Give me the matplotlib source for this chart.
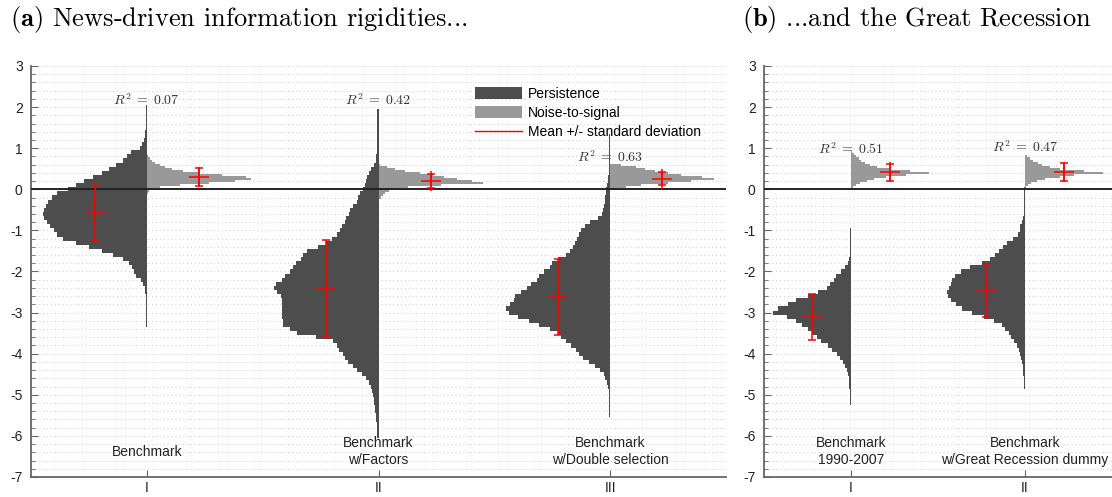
import numpy as np
import matplotlib
matplotlib.use("Agg")
import matplotlib.pyplot as plt
from matplotlib.patches import Patch
from matplotlib.lines import Line2D
from matplotlib.ticker import MultipleLocator

plt.rcParams['font.family'] = ['Liberation Sans', 'DejaVu Sans']
plt.rcParams['axes.unicode_minus'] = False
plt.rcParams['mathtext.fontset'] = 'cm'

DARK = '#4d4d4d'
LIGHT = '#999999'
HALF = 0.45          # widest half-violin, in category units

# ---- panel (a): news-driven information rigidities ----
ticks_a = ["I", "II", "III"]
labels_a = ["Benchmark", "Benchmark\nw/Factors", "Benchmark\nw/Double selection"]
r2_a = [0.07, 0.42, 0.63]
r2_y_a = [2.17, 2.17, 0.79]

# persistence histograms: relative bin heights, 0.1 bins listed from the top bin down
pers_top_a = [2.0, 1.9, 1.3]
pers_a = [
    [0.01, 0.01, 0.01, 0.01, 0.01, 0.01, 0.015, 0.02, 0.03, 0.05, 0.07,
     0.15, 0.19, 0.23, 0.30, 0.36, 0.43, 0.52, 0.60, 0.68, 0.76,
     0.86, 0.91, 0.95, 0.97, 0.99, 1.00, 0.99, 0.96, 0.93, 0.89,
     0.86, 0.80, 0.68, 0.55, 0.43, 0.32, 0.23, 0.17, 0.14, 0.12,
     0.10, 0.06, 0.04, 0.02, 0.015, 0.01, 0.01, 0.01, 0.01, 0.01,
     0.01, 0.01, 0.01],
    [0.01, 0.01, 0.01, 0.01, 0.01, 0.01, 0.01, 0.01, 0.012, 0.015,
     0.018, 0.02, 0.025, 0.04, 0.07, 0.09, 0.11, 0.12, 0.13, 0.145,
     0.18, 0.20, 0.21, 0.24, 0.27, 0.28, 0.31, 0.32, 0.35, 0.37,
     0.40, 0.45, 0.50, 0.58, 0.69, 0.72, 0.74, 0.79, 0.82, 0.85,
     0.90, 0.93, 0.98, 1.00, 0.97, 0.94, 0.93, 0.93, 0.93, 0.93,
     0.93, 0.92, 0.92, 0.85, 0.78, 0.60, 0.44, 0.40, 0.38, 0.34,
     0.32, 0.29, 0.24, 0.21, 0.16, 0.12, 0.09, 0.07, 0.06, 0.05,
     0.045, 0.04, 0.035, 0.03, 0.025, 0.02, 0.015, 0.01, 0.01, 0.01],
    [0.01, 0.01, 0.01, 0.01,
     0.01, 0.01, 0.01, 0.01, 0.012, 0.015, 0.018, 0.022, 0.03, 0.04,
     0.04, 0.045, 0.05, 0.06, 0.065, 0.075, 0.12, 0.19, 0.24, 0.28,
     0.30, 0.32, 0.34, 0.36, 0.39, 0.42, 0.50, 0.56, 0.58, 0.63,
     0.68, 0.70, 0.76, 0.80, 0.86, 0.91, 0.92, 0.96, 1.00, 0.97,
     0.88, 0.78, 0.68, 0.58, 0.50, 0.47, 0.42, 0.38, 0.33, 0.30,
     0.26, 0.20, 0.15, 0.10, 0.06, 0.05, 0.03, 0.02, 0.015, 0.01,
     0.01, 0.01, 0.01, 0.01, 0.01],
]
# noise-to-signal histograms: 0.05 bins from the top bin down
noise_top_a = [0.8, 0.6, 0.6]
noise_a = [
    [0.01, 0.03, 0.05, 0.08, 0.13, 0.17, 0.24, 0.35, 0.50, 0.72,
     0.95, 1.00, 0.85, 0.60, 0.32, 0.13, 0.05, 0.02, 0.01],
    [0.01, 0.08, 0.16, 0.25, 0.40, 0.52, 0.63, 0.75, 0.90, 1.00,
     0.60, 0.28, 0.15, 0.10, 0.06, 0.04, 0.02],
    [0.10, 0.25, 0.33, 0.43, 0.55, 0.68, 0.88, 1.00, 0.78, 0.55,
     0.30, 0.15, 0.04],
]
pers_mean_a = [-0.58, -2.42, -2.62]
pers_std_a = [0.69, 1.18, 0.93]
noise_mean_a = [0.30, 0.20, 0.26]
noise_std_a = [0.21, 0.18, 0.16]

# ---- panel (b): ...and the Great Recession ----
ticks_b = ["I", "II"]
labels_b = ["Benchmark\n1990-2007", "Benchmark\nw/Great Recession dummy"]
r2_b = [0.51, 0.47]
r2_y_b = [0.97, 1.02]

pers_top_b = [-1.0, 0.0]
pers_b = [
    [0.01, 0.01, 0.01, 0.01, 0.01, 0.012, 0.015, 0.02, 0.04, 0.08,
     0.13, 0.19, 0.22, 0.27, 0.31, 0.42, 0.55, 0.70, 0.80, 0.93,
     1.00, 0.82, 0.70, 0.62, 0.55, 0.50, 0.44, 0.38, 0.30, 0.24,
     0.18, 0.14, 0.10, 0.08, 0.05, 0.04, 0.03, 0.025, 0.02, 0.015,
     0.01, 0.01, 0.01],
    [0.01, 0.01, 0.01, 0.01, 0.012, 0.012, 0.015, 0.02, 0.04, 0.06,
     0.07, 0.09, 0.15, 0.23, 0.28, 0.33, 0.38, 0.45, 0.55, 0.70,
     0.82, 0.90, 0.93, 0.95, 0.97, 1.00, 0.98, 0.94, 0.88, 0.81,
     0.68, 0.52, 0.40, 0.30, 0.25, 0.20, 0.18, 0.14, 0.10, 0.08,
     0.06, 0.05, 0.04, 0.03, 0.025, 0.02, 0.015, 0.01, 0.01],
]
noise_top_b = [0.9, 0.8]
noise_b = [
    [0.01, 0.04, 0.07, 0.10, 0.13, 0.18, 0.24, 0.33, 0.48, 0.75,
     1.00, 0.70, 0.45, 0.30, 0.20, 0.12, 0.06, 0.02],
    [0.02, 0.06, 0.10, 0.16, 0.22, 0.32, 0.45, 0.75, 1.00, 0.62,
     0.45, 0.25, 0.15, 0.08, 0.04, 0.01],
]
pers_mean_b = [-3.10, -2.46]
pers_std_b = [0.56, 0.64]
noise_mean_b = [0.41, 0.43]
noise_std_b = [0.21, 0.22]


def half_violin(ax, pos, top, step, vals, side, color):
    vals = np.asarray(vals, dtype=float)
    centers = top - step * np.arange(len(vals))
    edges = np.append(centers + step / 2, centers[-1] - step / 2)
    ax.stairs(pos + side * HALF * vals[::-1], edges[::-1], baseline=pos,
              orientation="horizontal", fill=True, color=color, lw=0, zorder=2)


def mean_sd(ax, x, m, s):
    ax.errorbar(x, m, yerr=s, fmt="+", color="red", ms=14, mew=1.1,
                elinewidth=1.1, capsize=3, capthick=1.1, zorder=5)


def panel(ax, ticks, labels, r2, r2_y, ptop, pers, ntop, noise, pm, ps, nm, ns):
    pos = np.arange(1, len(ticks) + 1)
    for i, x in enumerate(pos):
        half_violin(ax, x, ptop[i], 0.1, pers[i], -1, DARK)
        half_violin(ax, x, ntop[i], 0.05, noise[i], 1, LIGHT)
        mean_sd(ax, x - HALF / 2, pm[i], ps[i])
        mean_sd(ax, x + HALF / 2, nm[i], ns[i])
        ax.text(x, r2_y[i], rf"$R^2\;=\;{r2[i]:.2f}$", ha="center", va="center",
                fontsize=10, color="#333333", zorder=6)
        ax.text(x, -6.38, labels[i], ha="center", va="center", fontsize=10,
                linespacing=1.35, color="#222222", zorder=6)
    ax.axhline(0, color="#222222", lw=1.4, zorder=4)
    ax.set_xlim(0.5, len(ticks) + 0.5)
    ax.set_ylim(-7, 3)
    ax.set_xticks(pos)
    ax.set_xticklabels(ticks)
    ax.set_yticks(np.arange(-7, 4))
    ax.yaxis.set_minor_locator(MultipleLocator(0.2))
    ax.grid(which="both", axis="y", linestyle=(0, (1, 3)), color="#cccccc", lw=0.7, zorder=0)
    ax.set_axisbelow(True)
    for sp in ("top", "right"):
        ax.spines[sp].set_visible(False)
    for sp in ("left", "bottom"):
        ax.spines[sp].set_color("#666666")
        ax.spines[sp].set_linewidth(1.3)
    ax.tick_params(which="major", direction="in", length=5, color="#666666",
                   labelsize=10, labelcolor="#222222")
    ax.tick_params(which="minor", direction="in", length=3, color="#666666")
    ax.tick_params(axis="x", which="minor", length=0)
    ax.tick_params(axis="x", pad=3)
    ax.tick_params(axis="y", pad=6)


fig = plt.figure(figsize=(11.12, 4.97), dpi=100)
ax_a = fig.add_axes([31 / 1112, 20 / 497, 695 / 1112, 411 / 497])
ax_b = fig.add_axes([764 / 1112, 20 / 497, 348 / 1112, 411 / 497])

panel(ax_a, ticks_a, labels_a, r2_a, r2_y_a, pers_top_a, pers_a, noise_top_a, noise_a,
      pers_mean_a, pers_std_a, noise_mean_a, noise_std_a)
panel(ax_b, ticks_b, labels_b, r2_b, r2_y_b, pers_top_b, pers_b, noise_top_b, noise_b,
      pers_mean_b, pers_std_b, noise_mean_b, noise_std_b)

handles = [Patch(facecolor=DARK, edgecolor="none"),
           Patch(facecolor=LIGHT, edgecolor="none"),
           Line2D([], [], color="red", lw=1.0)]
ax_a.legend(handles, ["Persistence", "Noise-to-signal", "Mean +/- standard deviation"],
            loc="upper left", bbox_to_anchor=(0.639, 0.95), frameon=False,
            fontsize=10, borderpad=0, borderaxespad=0, handlelength=3.4,
            handleheight=0.9, handletextpad=0.4, labelspacing=0.38)

fig.text(10 / 1112, 1 - 26 / 497, r"$\mathbf{(a)}$ News-driven information rigidities...",
         fontfamily="cmr10", fontsize=19, va="baseline")
fig.text(742 / 1112, 1 - 26 / 497, r"$\mathbf{(b)}$ ...and the Great Recession",
         fontfamily="cmr10", fontsize=19, va="baseline")

fig.savefig("out.png", dpi=100)
